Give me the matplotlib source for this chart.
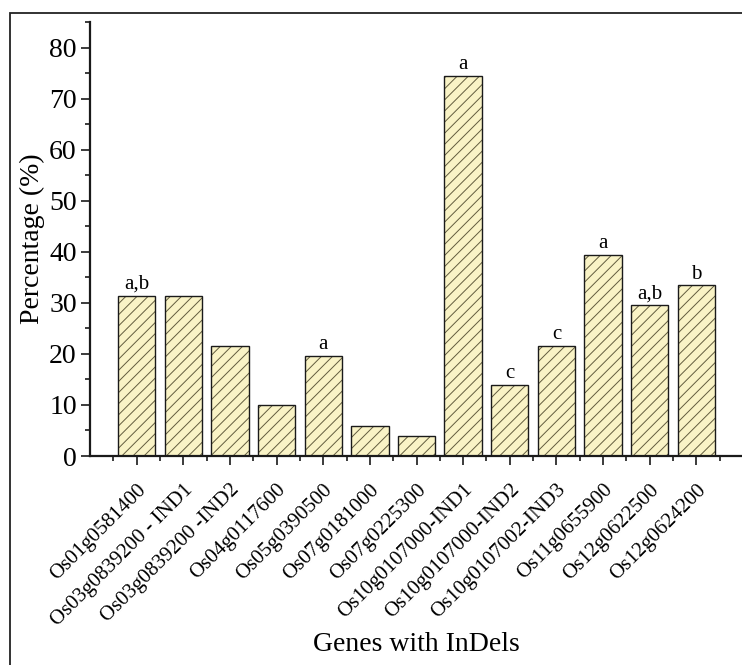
import numpy as np

import matplotlib
matplotlib.use('Agg')
import matplotlib.pyplot as plt
import matplotlib.transforms as mtransforms
from matplotlib.patches import Rectangle
from matplotlib.ticker import MultipleLocator

genes = ["Os01g0581400", "Os03g0839200 - IND1", "Os03g0839200 -IND2",
         "Os04g0117600", "Os05g0390500", "Os07g0181000", "Os07g0225300",
         "Os10g0107000-IND1", "Os10g0107000-IND2", "Os10g0107002-IND3",
         "Os11g0655900", "Os12g0622500", "Os12g0624200"]
percent = [31.4, 31.4, 21.6, 9.9, 19.6, 5.9, 4.0,
           74.5, 13.9, 21.6, 39.3, 29.5, 33.4]
groups = ["a,b", "", "", "", "a", "", "", "a", "c", "c", "a", "a,b", "b"]

plt.rcParams['font.family'] = ['Liberation Serif', 'DejaVu Serif']
plt.rcParams['hatch.linewidth'] = 0.7

if __name__ == "__main__":
    fig = plt.figure(figsize=(7.42, 6.65), dpi=100)
    ax = fig.add_axes([90 / 742, 1 - 456 / 665, 653 / 742, 434 / 665])

    x = np.arange(1, len(genes) + 1)
    # hatched fill first, then a plain black outline on top
    ax.bar(x, percent, width=0.8, color="#f9f3c6", edgecolor="#625c3e",
           hatch="///", linewidth=0, zorder=2)
    ax.bar(x, percent, width=0.8, fill=False, edgecolor="#1a1a1a",
           linewidth=1.0, zorder=3)

    for xi, v, g in zip(x, percent, groups):
        if g:
            ax.annotate(g, (xi, v), xytext=(0, 5), textcoords="offset points",
                        ha="center", va="baseline", fontsize=15)

    ax.set_xlim(0, 14)
    ax.set_ylim(0, 85)
    ax.set_xticks(x)
    ax.set_xticklabels(genes, rotation=45, ha="right", va="top",
                       rotation_mode="anchor", fontsize=15)
    ax.xaxis.set_minor_locator(MultipleLocator(1, offset=0.5))
    ax.yaxis.set_major_locator(MultipleLocator(10))
    ax.yaxis.set_minor_locator(MultipleLocator(5))

    shift = mtransforms.ScaledTranslation(15 / 100, 0, fig.dpi_scale_trans)
    for lbl in ax.get_xticklabels():
        lbl.set_transform(lbl.get_transform() + shift)

    ax.tick_params(axis="both", which="major", direction="out", length=6.5,
                   width=1.2, color="#1a1a1a")
    ax.tick_params(axis="both", which="minor", direction="out", length=3.5,
                   width=1.2, color="#1a1a1a")
    ax.tick_params(axis="y", which="major", labelsize=20, pad=3)
    ax.tick_params(axis="x", which="major", pad=11)

    for side in ("top", "right"):
        ax.spines[side].set_visible(False)
    for side in ("left", "bottom"):
        ax.spines[side].set_linewidth(1.6)
        ax.spines[side].set_color("#1a1a1a")

    ax.set_ylabel("Percentage (%)", fontsize=20)
    ax.yaxis.set_label_coords(-(90 - 45) / 653, 0.5)
    ax.set_xlabel("Genes with InDels", fontsize=20)
    ax.xaxis.set_label_coords(0.5, -(632 - 456) / 434)

    # outer frame round the whole graph
    fig.patches.append(Rectangle((10 / 742, -0.1), 1.2, 0.1 + 1 - 13 / 665,
                                 transform=fig.transFigure, fill=False,
                                 edgecolor="#222222", linewidth=1.3))

    plt.savefig("out.png", format="png", dpi=100)
